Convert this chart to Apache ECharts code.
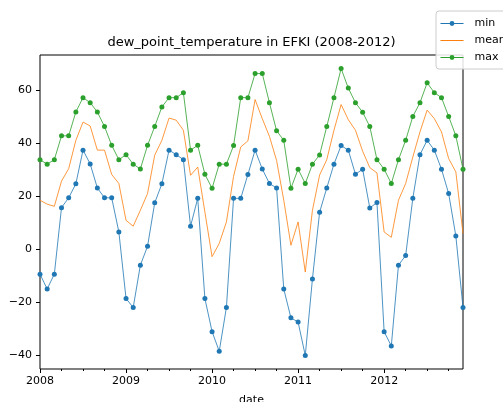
<!DOCTYPE html>
<html><head><meta charset="utf-8">
<script src="https://cdn.jsdelivr.net/npm/echarts@6/dist/echarts.min.js"></script>
<style>html,body{margin:0;padding:0;background:#fff}#c{width:503px;height:402px}</style>
</head><body><div id="c"></div>
<script>
const dates = [
 '2008-01','2008-02','2008-03','2008-04','2008-05','2008-06','2008-07','2008-08','2008-09','2008-10','2008-11','2008-12',
 '2009-01','2009-02','2009-03','2009-04','2009-05','2009-06','2009-07','2009-08','2009-09','2009-10','2009-11','2009-12',
 '2010-01','2010-02','2010-03','2010-04','2010-05','2010-06','2010-07','2010-08','2010-09','2010-10','2010-11','2010-12',
 '2011-01','2011-02','2011-03','2011-04','2011-05','2011-06','2011-07','2011-08','2011-09','2011-10','2011-11','2011-12',
 '2012-01','2012-02','2012-03','2012-04','2012-05','2012-06','2012-07','2012-08','2012-09','2012-10','2012-11','2012-12'
];
const minVals = [
 -9.4,-15.0,-9.4,15.7,19.4,24.7,37.4,32.2,23.1,19.4,19.4,6.5,
 -18.6,-22.0,-6.0,1.1,17.5,24.7,37.4,35.7,33.8,8.7,19.2,-18.6,
 -31.1,-38.5,-22.0,19.2,19.2,28.2,37.4,30.3,24.8,23.1,-15.0,-25.9,
 -27.5,-40.1,-11.2,14.0,23.1,32.1,39.1,37.4,28.3,30.2,15.6,17.6,
 -31.1,-36.5,-6.0,-2.4,19.2,35.7,41.1,37.4,30.2,21.0,5.0,-22.0
];
const meanVals = [
 18.5,17.0,16.2,25.7,30.4,41.1,48.0,46.5,37.4,37.4,28.2,24.8,
 10.9,8.7,14.7,21.0,35.5,41.1,49.5,48.7,44.9,27.9,31.0,14.0,
 -2.8,2.2,10.3,27.5,38.6,40.9,56.5,49.3,42.6,33.5,18.5,1.5,
 10.3,-8.6,14.7,28.0,33.8,44.9,54.6,48.9,44.9,37.0,30.8,28.8,
 6.5,4.5,18.5,24.8,34.8,44.3,52.5,49.3,44.3,34.2,29.2,5.9
];
const maxVals = [
 33.8,32.1,33.8,42.8,42.8,51.8,57.2,55.3,51.8,46.3,39.2,33.8,
 35.7,32.1,30.3,39.2,46.3,53.7,57.2,57.2,59.1,37.4,39.2,28.3,
 23.0,32.1,32.1,39.1,57.2,57.2,66.3,66.3,55.3,44.7,41.1,23.0,
 30.2,24.8,32.1,35.6,46.3,57.2,68.2,60.8,55.3,51.7,46.3,33.8,
 30.2,24.8,33.8,41.1,50.1,55.3,62.8,59.1,57.2,50.1,42.8,30.2
];
const yTicks = [-40,-20,0,20,40,60];
const yearTicks = ['2008','2009','2010','2011','2012'];

const font = 'DejaVu Sans';
const majorX = yearTicks.map(y => dates.indexOf(y + '-01'));
const minorX = dates.map((d, i) => i).filter(i => i % 3 === 0 && i % 12 !== 0);
const pairs = arr => arr.map((v, i) => [i, v]);
const fmt = v => (v < 0 ? '\u2212' : '') + Math.abs(v);

const chart = echarts.init(document.getElementById('c'), null, {renderer: 'canvas'});
const lbl = {fontFamily: font, fontSize: 11, color: '#000'};
const mkSeries = (name, arr, color, sym) => ({
  name, type: 'line', data: pairs(arr),
  symbol: sym ? 'circle' : 'none', symbolSize: 5, showSymbol: sym,
  lineStyle: {width: 0.8, color}, itemStyle: {color},
  emphasis: {disabled: true}, z: 3
});
chart.setOption({
  animation: false,
  title: {text: 'dew_point_temperature in EFKI (2008-2012)', left: 'center', top: 36, padding: 0,
    textStyle: {fontFamily: font, fontSize: 13, fontWeight: 'normal', color: '#000'}},
  legend: {orient: 'vertical', left: 436, top: 11, padding: [6, 40, 5, 4],
    itemWidth: 23, itemHeight: 6, itemGap: 4,
    lineStyle: {width: 1},
    backgroundColor: 'rgba(255,255,255,0.85)', borderColor: '#ccc', borderWidth: 1, borderRadius: 3,
    textStyle: {fontFamily: font, fontSize: 11, color: '#000', lineHeight: 13, padding: [0, 0, 0, 6]},
    data: ['min', {name: 'mean', itemStyle: {opacity: 0}}, 'max'], z: 10},
  grid: {left: 40, right: 40, top: 55, bottom: 33, show: true, borderColor: '#000', borderWidth: 1,
    outerBoundsMode: 'none', containLabel: false},
  xAxis: [
    {type: 'value', min: 0, max: dates.length - 1, position: 'bottom',
     name: 'date', nameLocation: 'middle', nameGap: 26, nameTextStyle: lbl,
     axisLine: {show: false, onZero: false}, splitLine: {show: false},
     axisTick: {show: true, customValues: majorX, length: 4, lineStyle: {color: '#000', width: 1}},
     axisLabel: Object.assign({customValues: majorX, formatter: v => dates[Math.round(v)].slice(0, 4), margin: 7}, lbl)},
    {type: 'value', min: 0, max: dates.length - 1, position: 'bottom', gridIndex: 0,
     axisLine: {show: false, onZero: false}, splitLine: {show: false},
     axisTick: {show: true, customValues: minorX, length: 2, lineStyle: {color: '#000', width: 1}},
     axisLabel: {show: false}}
  ],
  yAxis: {type: 'value', min: -45.2, max: 73.3,
    axisLine: {show: false, onZero: false}, splitLine: {show: false},
    axisTick: {show: true, customValues: yTicks, length: 4, lineStyle: {color: '#000', width: 1}},
    axisLabel: Object.assign({customValues: yTicks, formatter: fmt, margin: 8}, lbl)},
  series: [
    mkSeries('min', minVals, '#1f77b4', true),
    mkSeries('mean', meanVals, '#ff7f0e', false),
    mkSeries('max', maxVals, '#2ca02c', true)
  ]
});
</script></body></html>
